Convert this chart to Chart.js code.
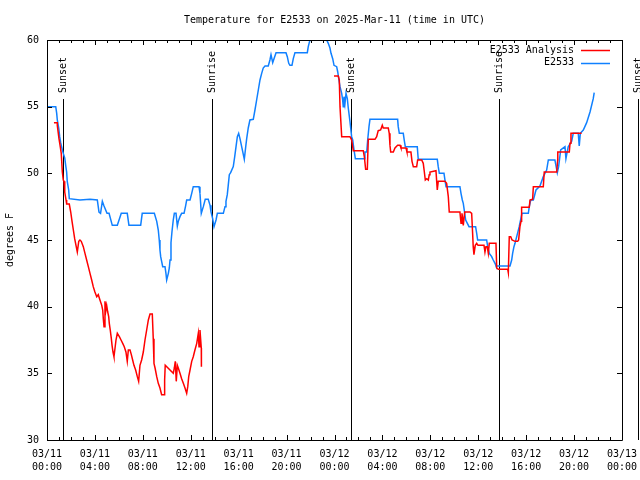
<!DOCTYPE html>
<html>
<head>
<meta charset="utf-8">
<script src="https://cdn.jsdelivr.net/npm/chart.js@4/dist/chart.umd.min.js"></script>
<style>
  html, body { margin: 0; padding: 0; background: #fff; }
  #wrap { width: 640px; height: 480px; }
</style>
</head>
<body>
<div id="wrap"><canvas id="myChart" width="640" height="480"></canvas></div>
<script>
// hours since 03/11 00:00 UTC, temperatures in degrees F
const stationHours = [
  0, 0.73, 0.81, 0.86, 0.98, 1.06, 1.14, 1.28, 1.36, 1.48, 1.56, 1.64, 1.69, 1.81, 1.86,
  2.75, 3.59, 4.2, 4.34, 4.47, 4.62, 4.76, 5.01, 5.18, 5.45, 5.87, 6.2, 6.7, 6.84, 7.82,
  7.95, 8.96, 9.16, 9.29, 9.37, 9.43, 9.49, 9.57, 9.66, 9.85, 9.93, 9.99, 10.13, 10.21,
  10.27, 10.35, 10.43, 10.54, 10.63, 10.77, 10.88, 10.96, 11.1, 11.24, 11.44, 11.58,
  11.66, 11.94, 12.08, 12.21, 12.69, 12.77, 12.88, 13.05, 13.21, 13.46, 13.61, 13.69,
  13.83, 13.94, 14.11, 14.22, 14.72, 14.86, 14.94, 15.05, 15.13, 15.22, 15.33, 15.55,
  15.67, 15.78, 15.89, 16.0, 16.11, 16.25, 16.39, 16.47, 16.59, 16.67, 16.8, 16.94,
  17.22, 17.36, 17.5, 17.64, 17.78, 17.92, 18.05, 18.2, 18.47, 18.61, 18.7, 18.84,
  18.95, 19.12, 19.95, 20.06, 20.18, 20.28, 20.45, 20.56, 20.7, 21.73, 21.81, 21.95,
  22.3, 22.8, 23.3, 23.35, 23.48, 23.62, 23.71, 23.85, 23.96, 24.18, 24.27, 24.37,
  24.46, 24.6, 24.68, 24.73, 24.79, 24.87, 24.96, 25.07, 25.15, 25.29, 25.43, 25.52,
  25.63, 25.74, 26.49, 26.54, 26.69, 26.77, 26.88, 26.96, 29.27, 29.32, 29.41, 29.74,
  29.82, 29.91, 30.91, 30.99, 32.58, 32.66, 32.75, 33.14, 33.22, 33.31, 34.47, 34.56,
  34.67, 34.75, 34.83, 34.95, 35.23, 35.78, 35.87, 35.95, 36.7, 36.79, 36.92, 37.12,
  37.25, 37.4, 37.48, 38.65, 38.79, 38.87, 38.98, 39.07, 39.21, 39.42, 39.65, 40.18,
  40.26, 40.38, 40.6, 40.82, 41.15, 41.43, 41.71, 41.85, 42.4, 42.6, 42.71, 42.88,
  43.24, 43.32, 43.51, 43.8, 43.93, 44.35, 44.43, 44.52, 44.77, 45.05, 45.33, 45.6, 45.68
];
const stationTemps = [
  55.0, 55.0, 54.5, 54.0, 53.4, 52.75, 52.3, 51.75, 51.5, 51.15, 50.6, 50.1, 49.4, 48.75, 48.1,
  48.0, 48.05, 48.0, 47.1, 47.0, 47.9, 47.55, 47.0, 47.0, 46.1, 46.1, 47.0, 47.0, 46.1, 46.1,
  47.0, 47.0, 46.4, 45.75, 45.0, 44.25, 43.75, 43.4, 43.0, 43.0, 42.5, 42.0, 42.5, 42.9,
  43.5, 44.8, 45.6, 46.5, 47.0, 47.0, 46.05, 46.4, 46.75, 47.0, 47.0, 47.6,
  48.0, 48.0, 48.5, 49.0, 49.0, 48.5, 47.0, 47.5, 48.05, 48.05, 47.6, 47.1,
  46.6, 46.0, 46.5, 47.0, 47.0, 47.5, 47.9, 48.4, 49.1, 49.9, 50.05, 50.5,
  51.25, 52.0, 52.75, 53.0, 52.6, 52.0, 51.4, 51.05, 52.0, 52.6, 53.4, 54.0,
  54.05, 54.75, 55.5, 56.25, 57.0, 57.5, 57.9, 58.05, 58.05, 58.5, 58.9, 58.3,
  58.6, 59.05, 59.05, 58.75, 58.25, 58.1, 58.1, 58.6, 59.05, 59.05, 59.5, 60.0,
  60.8, 61.2, 60.9, 60.0, 59.75, 59.4, 59.0, 58.6, 58.1, 58.0, 57.6, 57.0,
  56.5, 56.0, 55.5, 55.0, 55.75, 55.2, 56.0, 55.6, 54.9, 53.9, 52.75, 52.5,
  51.75, 51.1, 51.1, 51.6, 51.6, 52.5, 53.5, 54.05, 54.05, 53.5, 53.0, 53.0,
  52.5, 52.0, 52.0, 51.05, 51.05, 50.5, 50.0, 50.0, 49.5, 49.0, 49.0, 48.5,
  48.0, 47.75, 47.25, 46.5, 46.0, 46.0, 45.5, 45.0, 45.0, 44.5, 44.0, 43.75,
  43.5, 43.25, 43.05, 43.05, 43.5, 44.0, 44.5, 44.75, 45.25, 46.0, 47.0, 47.0,
  47.5, 48.0, 48.0, 48.75, 49.05, 49.75, 50.25, 51.0, 51.0, 50.05, 50.5, 51.75,
  52.0, 51.1, 52.0, 52.4, 53.0, 53.0, 52.05, 53.0, 53.25, 53.8, 54.6, 55.6, 56.05
];

// analysis series, null marks the gap in the record
const analysisHours = [
  0.58, 0.86, 0.86, 1.0, 1.09, 1.19, 1.28, 1.36, 1.42, 1.48, 1.59, 1.64, 1.86, 1.98, 2.09,
  2.2, 2.31, 2.42, 2.53, 2.65, 2.75, 2.86, 3.03, 3.17, 3.31, 3.45, 3.59, 3.73, 3.86, 4.0,
  4.15, 4.28, 4.42, 4.57, 4.65, 4.7, 4.76, 4.84, 4.92, 4.98, 5.07, 5.15, 5.2, 5.28, 5.37,
  5.43, 5.51, 5.59, 5.68, 5.76, 5.87, 6.04, 6.18, 6.32, 6.45, 6.59, 6.7, 6.79, 6.93,
  7.04, 7.15, 7.26, 7.4, 7.54, 7.65, 7.76, 7.9, 8.04, 8.18, 8.32, 8.46, 8.6, 8.79, 8.87,
  8.93, 9.02, 9.16, 9.29, 9.43, 9.57, 9.77, 9.82, 9.87, 10.54, 10.63, 10.71, 10.79,
  10.88, 10.96, 11.1, 11.24, 11.38, 11.52, 11.66, 11.75, 11.83, 11.94, 12.08, 12.21,
  12.35, 12.5, 12.63, 12.69, 12.77, 12.88, 12.89,
  18.0,
  23.96, 24.32, 24.4, 24.46, 24.6, 25.29, 25.43, 25.57, 26.4, 26.49, 26.6, 26.74, 26.82,
  27.38, 27.52, 27.65, 27.85, 27.99, 28.07, 28.49, 28.57, 28.63, 28.69, 28.91, 29.05,
  29.27, 29.47, 29.55, 29.97, 30.05, 30.38, 30.47, 30.58, 30.86, 30.94, 31.28, 31.41,
  31.5, 31.58, 31.7, 31.83, 31.91, 31.97, 32.47, 32.53, 32.58, 32.66, 33.22, 33.36,
  33.5, 33.58, 34.47, 34.56, 34.64, 34.7, 34.75, 34.87, 35.31, 35.45, 35.53, 35.58,
  35.64, 35.75, 35.87, 35.98, 36.48, 36.56, 36.64, 36.75, 36.84, 36.92, 37.48, 37.54,
  37.67, 38.46, 38.51, 38.59, 38.71, 38.82, 39.07, 39.29, 39.37, 39.48, 39.57, 39.62,
  40.26, 40.32, 40.54, 40.6, 41.43, 41.51, 42.55, 42.63, 42.64, 43.6, 43.66, 43.74, 44.63
];
const analysisTemps = [
  53.8, 53.8, 53.6, 52.6, 52.1, 51.5, 50.1, 49.5, 49.4, 48.6, 48.0, 47.7, 47.7, 47.1, 46.4,
  45.75, 45.1, 44.6, 44.1, 44.9, 45.0, 44.9, 44.5, 44.0, 43.5, 43.0, 42.5, 42.0, 41.5, 41.1,
  40.75, 40.9, 40.5, 40.1, 39.75, 39.1, 38.5, 40.4, 39.75, 40.1, 39.6, 39.25, 38.75, 38.25, 37.6,
  37.1, 36.6, 36.25, 36.9, 37.5, 38.0, 37.75, 37.5, 37.25, 37.0, 36.6, 35.9, 36.75, 36.75,
  36.4, 36.0, 35.6, 35.25, 34.75, 34.4, 35.6, 36.0, 36.6, 37.5, 38.25, 39.0, 39.45, 39.45, 37.6,
  35.75, 35.4, 34.75, 34.25, 33.9, 33.4, 33.4, 34.5, 35.6, 35.0, 35.4, 35.9, 34.4,
  35.6, 35.4, 35.0, 34.6, 34.25, 33.9, 33.5, 34.0, 34.75, 35.25, 35.9, 36.25,
  36.75, 37.25, 38.0, 37.0, 38.25, 36.9, 35.5,
  null,
  57.3, 57.3, 57.0, 55.0, 52.75, 52.75, 52.5, 51.7, 51.7, 51.25, 50.3, 50.3, 52.55,
  52.55, 52.75, 53.2, 53.25, 53.6, 53.4, 53.4, 53.0, 52.1, 51.6, 51.6, 51.9,
  52.1, 52.1, 51.9, 51.9, 51.6, 51.6, 50.9, 50.5, 50.5, 51.0, 51.0, 50.75,
  50.1, 49.5, 49.6, 49.5, 49.9, 50.1, 50.2, 49.4, 48.75, 49.4, 49.4, 49.25,
  48.25, 47.1, 47.1, 46.25, 47.0, 46.6, 46.1, 47.1, 47.1, 47.0, 45.5, 44.5,
  43.9, 44.6, 44.75, 44.6, 44.6, 44.1, 44.5, 44.5, 44.0, 44.75, 44.75, 42.9,
  42.8, 42.8, 42.55, 45.25, 45.25, 45.0, 44.9, 44.9, 45.0, 46.0, 46.4, 47.45,
  47.45, 48.0, 48.05, 49.0, 49.0, 50.1, 50.1, 51.0, 51.6, 51.6, 52.25, 53.0, 53.0
];

const xTickLabels = [
  ['03/11', '00:00'], ['03/11', '04:00'], ['03/11', '08:00'], ['03/11', '12:00'],
  ['03/11', '16:00'], ['03/11', '20:00'], ['03/12', '00:00'], ['03/12', '04:00'],
  ['03/12', '08:00'], ['03/12', '12:00'], ['03/12', '16:00'], ['03/12', '20:00'],
  ['03/13', '00:00']
];
const sunEventHours = [1.36, 13.75, 25.35, 37.76, 49.36];
const sunEventLabels = ['Sunset', 'Sunrise', 'Sunset', 'Sunrise', 'Sunset'];
const chartTitle = 'Temperature for E2533 on 2025-Mar-11 (time in UTC)';

const FONT = 'DejaVu Sans Mono';

const toPoints = (xs, ys) => xs.map((h, i) => ({ x: h, y: ys[i] }));

const sunLines = {
  id: 'sunLines',
  beforeDatasetsDraw(chart) {
    const { ctx, chartArea: a, scales: { x } } = chart;
    ctx.save();
    ctx.strokeStyle = '#000';
    ctx.fillStyle = '#000';
    ctx.lineWidth = 1;
    ctx.font = '10px "' + FONT + '"';
    sunEventHours.forEach((h, i) => {
      const px = Math.round(x.getPixelForValue(h)) + 0.5;
      ctx.beginPath();
      ctx.moveTo(px, a.top + 59);
      ctx.lineTo(px, a.bottom);
      ctx.stroke();
      ctx.save();
      ctx.translate(px, a.top + 53);
      ctx.rotate(-Math.PI / 2);
      ctx.textAlign = 'left';
      ctx.textBaseline = 'middle';
      ctx.fillText(sunEventLabels[i], 0, 0);
      ctx.restore();
    });
    ctx.restore();
  }
};

const frame = {
  id: 'frame',
  afterDatasetsDraw(chart) {
    const { ctx, chartArea: a, scales: { x, y } } = chart;
    ctx.save();
    ctx.strokeStyle = '#000';
    ctx.lineWidth = 1;
    ctx.beginPath();
    ctx.rect(a.left + 0.5, a.top + 0.5, a.right - a.left, a.bottom - a.top);
    for (let h = 0; h <= 48; h++) {
      const px = Math.round(x.getPixelForValue(h)) + 0.5;
      const len = h % 4 === 0 ? 5 : 3;
      ctx.moveTo(px, a.bottom); ctx.lineTo(px, a.bottom - len);
      ctx.moveTo(px, a.top); ctx.lineTo(px, a.top + len);
    }
    for (let t = 30; t <= 60; t += 5) {
      const py = Math.round(y.getPixelForValue(t)) + 0.5;
      ctx.moveTo(a.left, py); ctx.lineTo(a.left + 5, py);
      ctx.moveTo(a.right, py); ctx.lineTo(a.right - 5, py);
    }
    ctx.stroke();

    ctx.font = '10px "' + FONT + '"';
    ctx.fillStyle = '#000';
    // title, centred over the plot
    ctx.textAlign = 'center';
    ctx.textBaseline = 'middle';
    ctx.fillText(chartTitle, (a.left + a.right) / 2, a.top - 20);

    // key, top right inside the plot
    ctx.textAlign = 'right';
    chart.data.datasets.forEach((ds, i) => {
      const ty = a.top + 10 + i * 12.5;
      ctx.fillStyle = '#000';
      ctx.fillText(ds.label, a.right - 48, ty);
      ctx.strokeStyle = ds.borderColor;
      ctx.lineWidth = 1.5;
      ctx.beginPath();
      ctx.moveTo(a.right - 41, Math.round(ty) + 0.5);
      ctx.lineTo(a.right - 12, Math.round(ty) + 0.5);
      ctx.stroke();
    });
    ctx.restore();
  }
};

Chart.defaults.color = '#000';
Chart.defaults.font.family = FONT;
Chart.defaults.font.size = 10;

new Chart(document.getElementById('myChart').getContext('2d'), {
  type: 'line',
  data: {
    datasets: [
      {
        label: 'E2533 Analysis',
        data: toPoints(analysisHours, analysisTemps),
        borderColor: '#ff0000',
        borderWidth: 1.5,
        pointRadius: 0,
        spanGaps: false,
        tension: 0
      },
      {
        label: 'E2533',
        data: toPoints(stationHours, stationTemps),
        borderColor: '#1080ff',
        borderWidth: 1.5,
        pointRadius: 0,
        tension: 0
      }
    ]
  },
  options: {
    responsive: false,
    animation: false,
    devicePixelRatio: 1,
    layout: { padding: { left: 0, right: 18, top: 40, bottom: 0 } },
    plugins: {
      legend: { display: false },
      tooltip: { enabled: false },
      title: { display: false }
    },
    scales: {
      x: {
        type: 'linear',
        min: 0,
        max: 48,
        grid: { display: false },
        border: { display: false },
        afterBuildTicks: (scale) => {
          scale.ticks = xTickLabels.map((_, i) => ({ value: i * 4 }));
        },
        afterFit: (scale) => {
          scale.height = 40;
          scale.paddingLeft = 0;
          scale.paddingRight = 0;
        },
        ticks: {
          autoSkip: false,
          maxRotation: 0,
          padding: 0,
          font: { size: 10, lineHeight: 1.3 },
          callback: (v, i) => xTickLabels[i]
        }
      },
      y: {
        min: 30,
        max: 60,
        grid: { display: false },
        border: { display: false },
        afterFit: (scale) => {
          scale.width = 47;
          scale.paddingTop = 0;
          scale.paddingBottom = 0;
        },
        ticks: { stepSize: 5, padding: 0 },
        title: { display: true, text: 'degrees F', font: { size: 10 }, padding: { top: 4, bottom: 0 } }
      }
    }
  },
  plugins: [sunLines, frame]
});
</script>
</body>
</html>
